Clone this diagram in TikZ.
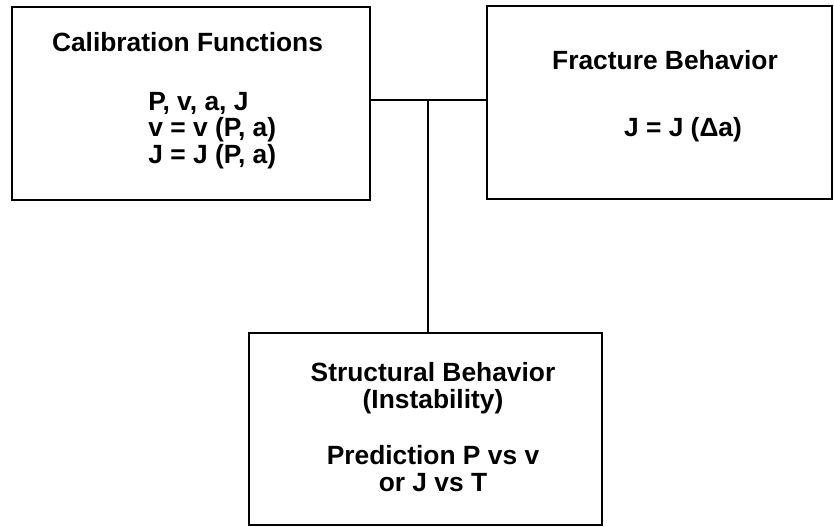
\documentclass[tikz,border=0pt]{standalone}
\usepackage{fontspec}
\setmainfont{Liberation Sans}
\usepackage{tikz}
\usetikzlibrary{positioning,calc}
\tikzset{blk/.style={draw=black,line width=1.5pt,minimum height=3.86cm,inner sep=0pt},
  lbl/.style={font=\fontsize{15}{15.2}\selectfont\bfseries,inner sep=0pt,align=center},
  link/.style={line width=1.5pt,draw=black}}
\begin{document}
\begin{tikzpicture}
\useasboundingbox (0,0) rectangle (16.68,-10.54);
\node[blk,minimum width=7.16cm] (calib) at (3.82,-2.07) {};
\node[blk,minimum width=6.90cm] (fract) at (13.19,-2.05) {};
\node[blk,minimum width=7.06cm,minimum height=3.84cm] (struct) at (8.51,-8.58) {};
% texts, multi-line ones placed by their last baseline
\node[lbl,anchor=base] (calibttl) at (3.75,-1.03) {Calibration Functions};
\node[lbl,anchor=base west,align=left] (calibeq) at (2.96,-3.27) {P, v, a, J\\v = v (P, a)\\J = J (P, a)};
\node[lbl,anchor=base] (fractttl) at (13.30,-1.40) {Fracture Behavior};
\node[lbl,anchor=base] (fracteq) at (13.66,-2.74) {J = J (Δa)};
\node[lbl,anchor=base] (structttl) at (8.66,-8.17) {Structural Behavior\\(Instability)};
\node[lbl,anchor=base] (structpred) at (8.66,-9.83) {Prediction P vs v\\or J vs T};
\coordinate (tee) at (8.56,-2.00);
\draw[link] (calib.east |- tee)--(fract.west |- tee);
\draw[link] (tee)--(tee |- struct.north);
\end{tikzpicture}
\end{document}
